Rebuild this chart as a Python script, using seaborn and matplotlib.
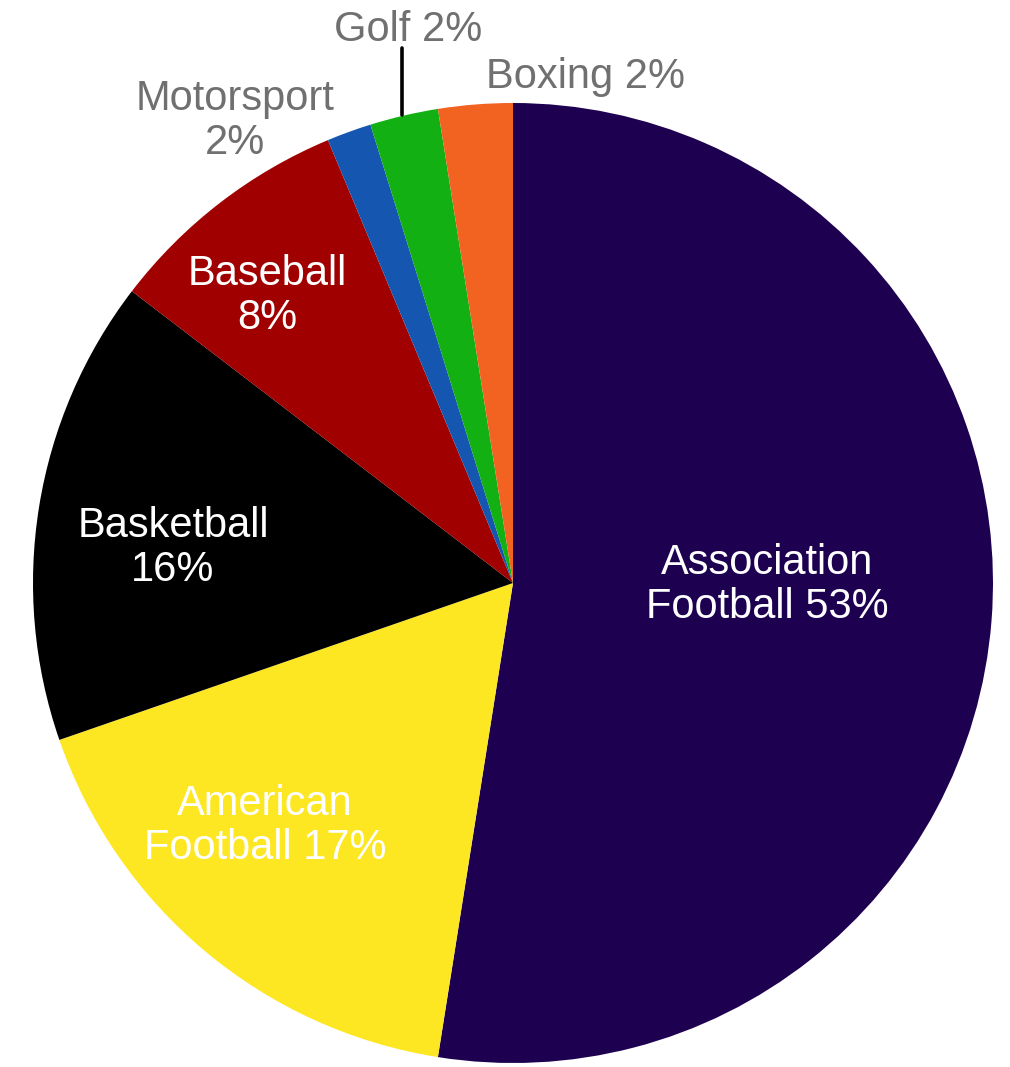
import matplotlib.pyplot as plt
import seaborn as sns

sns.set_style("white")
plt.rcParams["font.family"] = ["Liberation Sans", "DejaVu Sans"]

# data, clockwise from 12 o'clock
sports = ["Association Football", "American Football", "Basketball",
          "Baseball", "Motorsport", "Golf", "Boxing"]
shares = [52.5, 17.2, 15.7, 8.3, 1.5, 2.3, 2.5]
labels = ["Association\nFootball 53%", "American\nFootball 17%", "Basketball\n16%",
          "Baseball\n8%", "Motorsport\n2%", "Golf 2%", "Boxing 2%"]
colors = ["#1e0050", "#fde622", "#000000", "#a10000", "#1557b0", "#12b012", "#f26322"]

W, H = 1010, 1067
CX, CY, R = 513, 583, 480  # pie centre / radius in pixels


def px(x, y):
    """pixel position -> data coords (pie radius = 1)"""
    return (x - CX) / R, (CY - y) / R


fig = plt.figure(figsize=(W / 100, H / 100), dpi=100)
ax = fig.add_axes([0, 0, 1, 1])
ax.pie(shares, colors=colors, startangle=90, counterclock=False,
       radius=1, wedgeprops=dict(linewidth=0))
ax.set_xlim(-CX / R, (W - CX) / R)
ax.set_ylim(-(H - CY) / R, CY / R)
ax.set_aspect("equal")
ax.axis("off")

# label placement (pixel centres) and colours
label_pos = [(767, 585), (265, 826), (173, 548), (267, 296), (235, 121), (408, 30), (585, 77)]
label_col = ["white", "white", "white", "white", "#707070", "#707070", "#707070"]

for txt, (x, y), c in zip(labels, label_pos, label_col):
    ax.text(*px(x, y), txt, color=c, fontsize=30, ha="center", va="center",
            multialignment="center", linespacing=1.1)

# leader line for Golf
x0, y0 = px(402, 48)
x1, y1 = px(402, 115)
ax.plot([x0, x1], [y0, y1], color="black", linewidth=2.6)

plt.savefig("out.png", dpi=100)
plt.close()
